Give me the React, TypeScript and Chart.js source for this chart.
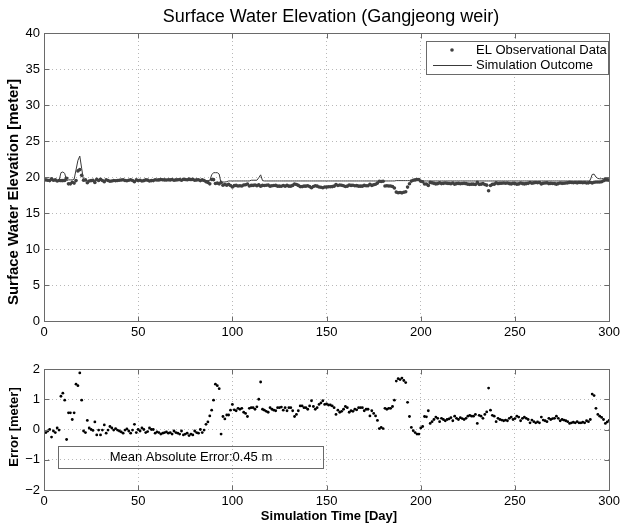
import React, { useEffect, useRef } from 'react';
import { Chart, registerables } from 'chart.js';

Chart.register(...registerables);

const FONT = '"Liberation Sans", Arial, Helvetica, sans-serif';
Chart.defaults.font.family = FONT;

const chartTitle = 'Surface Water Elevation (Gangjeong weir)';
const topYTitle = 'Surface Water Elevation [meter]';
const botYTitle = 'Error [meter]';
const xTitle = 'Simulation Time [Day]';
const legendObs = 'EL Observational Data';
const legendSim = 'Simulation Outcome';
const maeText = 'Mean Absolute Error:0.45 m';

const xTickValues = [0, 50, 100, 150, 200, 250, 300];
const elevTickValues = [0, 5, 10, 15, 20, 25, 30, 35, 40];
const errTickValues = [-2, -1, 0, 1, 2];

// observed surface water elevation, day 1..300 [m]
const observed = [
  19.60, 19.55, 19.50, 19.75, 19.55, 19.60, 19.45, 19.52, 19.50, 19.50,
  19.53, 19.83, 19.05, 19.05, 19.27, 19.15, 19.50, 20.85, 21.03, 20.23,
  19.55, 19.60, 19.20, 19.45, 19.50, 19.53, 19.25, 19.68, 19.52, 19.68,
  19.52, 19.35, 19.62, 19.52, 19.40, 19.45, 19.52, 19.47, 19.52, 19.55,
  19.58, 19.62, 19.52, 19.48, 19.55, 19.62, 19.52, 19.33, 19.60, 19.50,
  19.55, 19.45, 19.50, 19.60, 19.57, 19.45, 19.50, 19.50, 19.62, 19.58,
  19.60, 19.65, 19.62, 19.60, 19.58, 19.62, 19.60, 19.65, 19.55, 19.60,
  19.62, 19.65, 19.55, 19.68, 19.65, 19.62, 19.70, 19.65, 19.68, 19.55,
  19.60, 19.62, 19.50, 19.60, 19.52, 19.33, 19.25, 19.05, 19.66, 19.63,
  19.10, 19.15, 19.05, 19.25, 18.87, 18.95, 18.87, 18.97, 18.81, 18.62,
  18.80, 18.83, 18.75, 18.78, 18.75, 18.88, 18.92, 19.02, 18.75, 18.83,
  18.83, 18.88, 18.80, 18.90, 18.73, 18.83, 18.81, 18.85, 18.88, 18.73,
  18.78, 18.81, 18.83, 18.73, 18.73, 18.71, 18.81, 18.73, 18.83, 18.73,
  18.73, 18.83, 19.02, 18.95, 18.83, 18.67, 18.67, 18.73, 18.73, 18.78,
  18.67, 18.50, 18.69, 18.78, 18.73, 18.62, 18.57, 18.50, 18.62, 18.60,
  18.64, 18.64, 18.67, 18.73, 18.95, 18.81, 18.88, 18.85, 18.78, 18.69,
  18.73, 18.88, 18.83, 18.85, 18.78, 18.80, 18.73, 18.73, 18.73, 18.83,
  18.78, 18.78, 19.00, 18.83, 18.92, 19.00, 19.15, 19.42, 19.38, 19.42,
  18.75, 18.78, 18.75, 18.75, 18.69, 18.48, 17.90, 17.82, 17.85, 17.80,
  17.88, 17.95, 18.60, 19.07, 19.43, 19.54, 19.60, 19.65, 19.65, 19.40,
  19.35, 19.02, 19.03, 18.83, 19.25, 19.19, 19.12, 19.04, 19.08, 19.19,
  19.08, 19.12, 19.16, 19.12, 19.10, 19.06, 19.16, 19.01, 19.08, 19.12,
  19.06, 19.09, 19.12, 19.08, 19.01, 18.98, 19.01, 19.01, 18.95, 19.25,
  18.98, 19.01, 19.08, 18.95, 18.87, 18.08, 18.81, 18.98, 19.01, 19.19,
  19.08, 19.12, 19.14, 19.16, 19.14, 19.16, 19.08, 19.04, 19.12, 19.09,
  19.01, 19.04, 19.16, 19.08, 19.04, 19.08, 19.12, 19.23, 19.14, 19.19,
  19.23, 19.20, 19.23, 19.04, 19.14, 19.16, 19.19, 19.08, 19.12, 19.09,
  19.08, 19.01, 19.08, 19.16, 19.12, 19.14, 19.16, 19.19, 19.25, 19.23,
  19.21, 19.23, 19.19, 19.23, 19.23, 19.21, 19.23, 19.16, 19.19, 19.27,
  19.18, 19.28, 19.30, 19.30, 19.31, 19.35, 19.47, 19.60, 19.60, 19.55,
];

// simulated surface water elevation, day 1..300 [m]
const simulated = [
  19.5, 19.5, 19.5, 19.5, 19.5, 19.5, 19.5, 19.5, 20.6, 20.7,
  20.5, 19.5, 19.6, 19.6, 19.6, 19.7, 21.0, 22.3, 22.9, 21.2,
  19.5, 19.5, 19.5, 19.5, 19.5, 19.5, 19.5, 19.5, 19.5, 19.5,
  19.5, 19.5, 19.5, 19.5, 19.5, 19.5, 19.5, 19.5, 19.5, 19.5,
  19.5, 19.5, 19.5, 19.5, 19.5, 19.5, 19.5, 19.5, 19.5, 19.5,
  19.5, 19.5, 19.5, 19.5, 19.5, 19.5, 19.5, 19.5, 19.5, 19.5,
  19.5, 19.5, 19.5, 19.5, 19.5, 19.5, 19.5, 19.5, 19.5, 19.5,
  19.5, 19.5, 19.5, 19.5, 19.5, 19.5, 19.5, 19.5, 19.5, 19.5,
  19.5, 19.5, 19.5, 19.5, 19.5, 19.5, 19.5, 19.5, 20.3, 20.6,
  20.6, 20.6, 20.4, 19.1, 19.3, 19.3, 19.35, 19.45, 19.45, 19.45,
  19.45, 19.45, 19.45, 19.45, 19.45, 19.45, 19.45, 19.45, 19.45, 19.55,
  19.55, 19.55, 19.55, 19.9, 20.3, 19.5, 19.45, 19.45, 19.45, 19.45,
  19.45, 19.45, 19.45, 19.45, 19.45, 19.45, 19.45, 19.45, 19.45, 19.45,
  19.45, 19.45, 19.45, 19.45, 19.45, 19.45, 19.45, 19.45, 19.45, 19.45,
  19.45, 19.45, 19.45, 19.45, 19.45, 19.45, 19.45, 19.45, 19.45, 19.45,
  19.45, 19.45, 19.45, 19.45, 19.45, 19.45, 19.45, 19.45, 19.45, 19.45,
  19.45, 19.45, 19.45, 19.45, 19.45, 19.45, 19.45, 19.45, 19.45, 19.45,
  19.45, 19.45, 19.45, 19.45, 19.45, 19.45, 19.45, 19.45, 19.45, 19.45,
  19.45, 19.45, 19.45, 19.45, 19.45, 19.45, 19.5, 19.5, 19.5, 19.5,
  19.5, 19.5, 19.5, 19.5, 19.5, 19.5, 19.5, 19.5, 19.5, 19.45,
  19.45, 19.45, 19.45, 19.45, 19.45, 19.45, 19.45, 19.45, 19.45, 19.45,
  19.45, 19.45, 19.45, 19.45, 19.45, 19.45, 19.45, 19.45, 19.45, 19.45,
  19.45, 19.45, 19.45, 19.45, 19.45, 19.45, 19.45, 19.45, 19.45, 19.45,
  19.45, 19.45, 19.45, 19.45, 19.45, 19.45, 19.45, 19.45, 19.45, 19.45,
  19.45, 19.45, 19.45, 19.45, 19.45, 19.45, 19.45, 19.45, 19.45, 19.45,
  19.45, 19.45, 19.45, 19.45, 19.45, 19.45, 19.45, 19.45, 19.45, 19.45,
  19.45, 19.45, 19.45, 19.45, 19.45, 19.45, 19.45, 19.45, 19.45, 19.45,
  19.45, 19.45, 19.45, 19.45, 19.45, 19.45, 19.45, 19.45, 19.45, 19.45,
  19.45, 19.45, 19.45, 19.45, 19.45, 19.45, 19.45, 19.45, 19.45, 19.6,
  20.35, 20.4, 20.0, 19.8, 19.75, 19.75, 19.8, 19.8, 19.85, 19.85,
];

// error (simulated - observed), day 1..300 [m]
const errors = [
  -0.10, -0.05, 0.00, -0.25, -0.05, -0.10, 0.05, -0.02, 1.10, 1.20,
  0.97, -0.33, 0.55, 0.55, 0.33, 0.55, 1.50, 1.45, 1.87, 0.97,
  -0.05, -0.10, 0.30, 0.05, 0.00, -0.03, 0.25, -0.18, -0.02, -0.18,
  -0.02, 0.15, -0.12, -0.02, 0.10, 0.05, -0.02, 0.03, -0.02, -0.05,
  -0.08, -0.12, -0.02, 0.02, -0.05, -0.12, -0.02, 0.17, -0.10, 0.00,
  -0.05, 0.05, 0.00, -0.10, -0.07, 0.05, 0.00, 0.00, -0.12, -0.08,
  -0.10, -0.15, -0.12, -0.10, -0.08, -0.12, -0.10, -0.15, -0.05, -0.10,
  -0.12, -0.15, -0.05, -0.18, -0.15, -0.12, -0.20, -0.15, -0.18, -0.05,
  -0.10, -0.12, 0.00, -0.10, -0.02, 0.17, 0.25, 0.45, 0.64, 0.97,
  1.50, 1.45, 1.35, -0.15, 0.43, 0.35, 0.48, 0.48, 0.64, 0.83,
  0.65, 0.62, 0.70, 0.67, 0.70, 0.57, 0.53, 0.43, 0.70, 0.72,
  0.72, 0.67, 0.75, 1.00, 1.57, 0.67, 0.64, 0.60, 0.57, 0.72,
  0.67, 0.64, 0.62, 0.72, 0.72, 0.74, 0.64, 0.72, 0.62, 0.72,
  0.72, 0.62, 0.43, 0.50, 0.62, 0.78, 0.78, 0.72, 0.72, 0.67,
  0.78, 0.95, 0.76, 0.67, 0.72, 0.83, 0.88, 0.95, 0.83, 0.85,
  0.81, 0.81, 0.78, 0.72, 0.50, 0.64, 0.57, 0.60, 0.67, 0.76,
  0.72, 0.57, 0.62, 0.60, 0.67, 0.65, 0.72, 0.72, 0.72, 0.62,
  0.67, 0.67, 0.45, 0.62, 0.53, 0.45, 0.30, 0.03, 0.07, 0.03,
  0.70, 0.67, 0.70, 0.70, 0.76, 0.97, 1.60, 1.68, 1.65, 1.70,
  1.62, 1.55, 0.90, 0.43, 0.07, -0.04, -0.10, -0.15, -0.15, 0.05,
  0.10, 0.43, 0.42, 0.62, 0.20, 0.26, 0.33, 0.41, 0.37, 0.26,
  0.37, 0.33, 0.29, 0.33, 0.35, 0.39, 0.29, 0.44, 0.37, 0.33,
  0.39, 0.36, 0.33, 0.37, 0.44, 0.47, 0.44, 0.44, 0.50, 0.20,
  0.47, 0.44, 0.37, 0.50, 0.58, 1.37, 0.64, 0.47, 0.44, 0.26,
  0.37, 0.33, 0.31, 0.29, 0.31, 0.29, 0.37, 0.41, 0.33, 0.36,
  0.44, 0.41, 0.29, 0.37, 0.41, 0.37, 0.33, 0.22, 0.31, 0.26,
  0.22, 0.25, 0.22, 0.41, 0.31, 0.29, 0.26, 0.37, 0.33, 0.36,
  0.37, 0.44, 0.37, 0.29, 0.33, 0.31, 0.29, 0.26, 0.20, 0.22,
  0.24, 0.22, 0.26, 0.22, 0.22, 0.24, 0.22, 0.29, 0.26, 0.33,
  1.17, 1.12, 0.70, 0.50, 0.44, 0.40, 0.33, 0.20, 0.25, 0.30,
];

const AXIS_COLOR = '#6a6a6a';
const GRID_COLOR = '#b8b8b8';
const OBS_COLOR = '#404040';
const SIM_COLOR = '#3a3a3a';

const minus = (v: number | string) => String(v).replace('-', '\u2212');

function drawFrame(chart: any, xVals: number[], yVals: number[]) {
  const { ctx, chartArea: a, scales } = chart;
  ctx.save();
  ctx.strokeStyle = AXIS_COLOR;
  ctx.lineWidth = 1;
  ctx.setLineDash([]);
  const L = Math.round(a.left) + 0.5;
  const R = Math.round(a.right) + 0.5;
  const T = Math.round(a.top) + 0.5;
  const B = Math.round(a.bottom) + 0.5;
  ctx.strokeRect(L, T, R - L, B - T);
  const tl = 5;
  ctx.beginPath();
  xVals.forEach((v) => {
    const px = Math.round(scales.x.getPixelForValue(v)) + 0.5;
    ctx.moveTo(px, B); ctx.lineTo(px, B - tl);
    ctx.moveTo(px, T); ctx.lineTo(px, T + tl);
  });
  yVals.forEach((v) => {
    const py = Math.round(scales.y.getPixelForValue(v)) + 0.5;
    ctx.moveTo(L, py); ctx.lineTo(L + tl, py);
    ctx.moveTo(R, py); ctx.lineTo(R - tl, py);
  });
  ctx.stroke();
  ctx.restore();
}

const topDecor = {
  id: 'topDecor',
  afterDraw(chart: any) {
    drawFrame(chart, xTickValues, elevTickValues);
    const { ctx } = chart;
    ctx.save();
    ctx.fillStyle = '#000';
    ctx.textAlign = 'center';
    ctx.textBaseline = 'middle';
    ctx.font = `18px ${FONT}`;
    ctx.fillText(chartTitle, 331, 17);
    ctx.save();
    ctx.translate(14, 192);
    ctx.rotate(-Math.PI / 2);
    ctx.font = `bold 15px ${FONT}`;
    ctx.fillText(topYTitle, 0, 0);
    ctx.restore();
    // legend
    const lx = 426.5, ly = 41.5, lw = 182, lh = 33;
    ctx.fillStyle = '#fff';
    ctx.fillRect(lx, ly, lw, lh);
    ctx.strokeStyle = AXIS_COLOR;
    ctx.lineWidth = 1;
    ctx.strokeRect(lx, ly, lw, lh);
    ctx.fillStyle = OBS_COLOR;
    ctx.beginPath();
    ctx.arc(452, 50, 1.8, 0, Math.PI * 2);
    ctx.fill();
    ctx.strokeStyle = SIM_COLOR;
    ctx.beginPath();
    ctx.moveTo(433, 65.5);
    ctx.lineTo(472, 65.5);
    ctx.stroke();
    ctx.fillStyle = '#000';
    ctx.textAlign = 'left';
    ctx.font = `13px ${FONT}`;
    ctx.fillText(legendObs, 476, 50);
    ctx.fillText(legendSim, 476, 65);
    ctx.restore();
  },
};

const botDecor = {
  id: 'botDecor',
  afterDraw(chart: any) {
    drawFrame(chart, xTickValues, errTickValues);
    const { ctx } = chart;
    ctx.save();
    ctx.fillStyle = '#000';
    ctx.textAlign = 'center';
    ctx.textBaseline = 'middle';
    ctx.font = `bold 13px ${FONT}`;
    ctx.fillText(xTitle, 329, 171);
    ctx.save();
    ctx.translate(14, 82);
    ctx.rotate(-Math.PI / 2);
    ctx.fillText(botYTitle, 0, 0);
    ctx.restore();
    ctx.strokeStyle = AXIS_COLOR;
    ctx.lineWidth = 1;
    ctx.strokeRect(58.5, 101.5, 265, 22);
    ctx.font = `13px ${FONT}`;
    ctx.fillText(maeText, 191, 112.5);
    ctx.restore();
  },
};

function xScale(height: number) {
  return {
    type: 'linear' as const,
    min: 0,
    max: 300,
    afterBuildTicks: (s: any) => { s.ticks = xTickValues.map((v) => ({ value: v })); },
    afterFit: (s: any) => { s.height = height; },
    ticks: { color: '#000', font: { family: FONT, size: 13 }, padding: 4, maxRotation: 0, autoSkip: false },
    grid: { color: GRID_COLOR, lineWidth: 1, drawTicks: false },
    border: { display: false, dash: [1, 3] },
  };
}

function yScale(min: number, max: number, vals: number[]) {
  return {
    type: 'linear' as const,
    min,
    max,
    afterBuildTicks: (s: any) => { s.ticks = vals.map((v) => ({ value: v })); },
    afterFit: (s: any) => { s.width = 44; },
    ticks: { color: '#000', font: { family: FONT, size: 13 }, padding: 4, callback: (v: any) => minus(v) },
    grid: { color: GRID_COLOR, lineWidth: 1, drawTicks: false },
    border: { display: false, dash: [1, 3] },
  };
}

export default function App() {
  const topRef = useRef<HTMLCanvasElement>(null);
  const botRef = useRef<HTMLCanvasElement>(null);

  useEffect(() => {
    const days = observed.map((_, i) => i + 1);
    const obsPts = observed.map((v, i) => ({ x: days[i], y: v }));
    const simPts = simulated.map((v, i) => ({ x: days[i], y: v }));
    const errPts = errors.map((v, i) => ({ x: days[i], y: v }));

    const top = new Chart(topRef.current as HTMLCanvasElement, {
      type: 'line',
      data: {
        datasets: [
          {
            label: legendObs,
            data: obsPts,
            showLine: false,
            pointRadius: 1.8,
            pointBorderWidth: 0,
            pointBackgroundColor: OBS_COLOR,
            pointBorderColor: OBS_COLOR,
          },
          {
            label: legendSim,
            data: simPts,
            borderColor: SIM_COLOR,
            borderWidth: 1,
            pointRadius: 0,
            tension: 0,
          },
        ],
      },
      options: {
        responsive: false,
        animation: false,
        events: [],
        layout: { padding: { left: 0, right: 11, top: 33, bottom: 0 } },
        plugins: { legend: { display: false }, tooltip: { enabled: false }, title: { display: false } },
        scales: { x: xScale(24), y: yScale(0, 40, elevTickValues) },
      },
      plugins: [topDecor],
    } as any);

    const bot = new Chart(botRef.current as HTMLCanvasElement, {
      type: 'line',
      data: {
        datasets: [
          {
            label: 'Error',
            data: errPts,
            showLine: false,
            pointRadius: 1.4,
            pointBorderWidth: 0,
            pointBackgroundColor: '#000',
            pointBorderColor: '#000',
          },
        ],
      },
      options: {
        responsive: false,
        animation: false,
        events: [],
        layout: { padding: { left: 0, right: 11, top: 24, bottom: 0 } },
        plugins: { legend: { display: false }, tooltip: { enabled: false } },
        scales: { x: xScale(37), y: yScale(-2, 2, errTickValues) },
      },
      plugins: [botDecor],
    } as any);

    return () => {
      top.destroy();
      bot.destroy();
    };
  }, []);

  return (
    <div style={{ position: 'absolute', left: 0, top: 0, width: 624, height: 527, background: '#fff' }}>
      <canvas ref={topRef} width={624} height={345} style={{ position: 'absolute', left: 0, top: 0 }} />
      <canvas ref={botRef} width={624} height={182} style={{ position: 'absolute', left: 0, top: 345 }} />
    </div>
  );
}
